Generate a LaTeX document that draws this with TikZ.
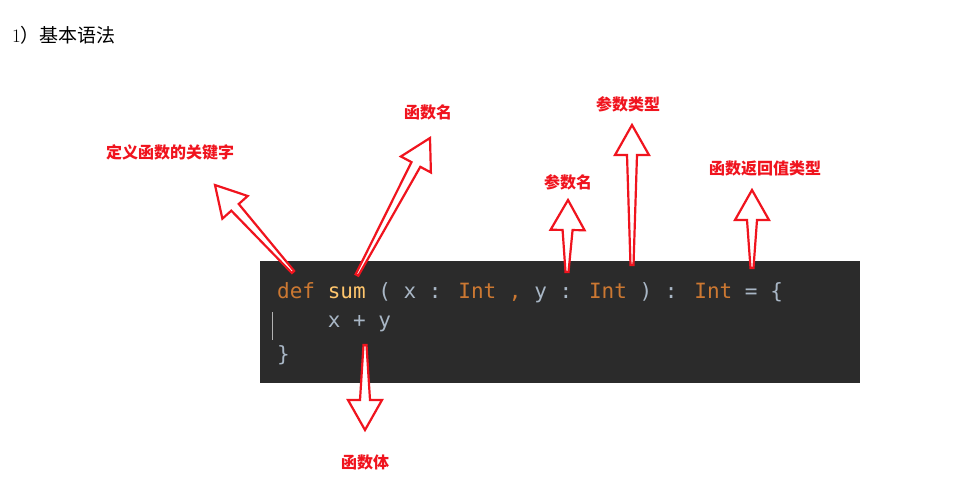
\documentclass[tikz,border=0pt]{standalone}
\usepackage{fontspec}
\usetikzlibrary{calc}
\newfontfamily\cjk{Noto Sans CJK SC}
\newfontfamily\mono{DejaVu Sans Mono}
\definecolor{kw}{HTML}{CC7832}
\definecolor{fn}{HTML}{FFC66D}
\definecolor{tx}{HTML}{A9B7C6}
\definecolor{bg}{HTML}{2B2B2B}
\definecolor{ar}{HTML}{F0141E}
\newcommand\harrow[2]{%
  \path coordinate (hb) at ($(#2)!30pt!(#1)$);
  \draw[ar,line width=2.2pt,fill=white,line join=miter]
    ($(#1)!1.5pt!90:(#2)$) -- ($(hb)!5pt!-90:(#1)$) -- ($(hb)!17pt!-90:(#1)$) -- (#2)
    -- ($(hb)!17pt!90:(#1)$) -- ($(hb)!5pt!90:(#1)$) -- ($(#1)!1.5pt!-90:(#2)$) -- cycle;}
\tikzset{lab/.style={text=ar,font=\cjk\bfseries\fontsize{16}{18}\selectfont,inner sep=0pt},
 code/.style={anchor=west,font=\mono\fontsize{21}{24}\selectfont,text=tx,inner sep=0pt}}
\begin{document}
\begin{tikzpicture}[x=1pt,y=-1pt]
\useasboundingbox[fill=white] (0,0) rectangle (955,500);
\node[anchor=west,inner sep=0pt,font=\fontsize{19}{22}\selectfont] (title) at (12,35) {1\cjk）基本语法};
\fill[bg] (260,261) rectangle (860,383);
\draw[gray!60,line width=0.6pt] (272,312) -- (272,340);
\node[code] (l1) at (277,293) {\textcolor{kw}{def} \textcolor{fn}{sum} ( x : \textcolor{kw}{Int} \textcolor{kw}{,} y : \textcolor{kw}{Int} ) : \textcolor{kw}{Int} = \{};
\node[code] (l2) at (277,324) {\ \ \ \ x + y};
\node[code] (l3) at (277,355) {\}};
\coordinate (t1) at (293,272); \coordinate (p1) at (215,185);
\coordinate (t2) at (357,275); \coordinate (p2) at (430,138);
\coordinate (t3) at (567,272); \coordinate (p3) at (568,200);
\coordinate (t4) at (632,265); \coordinate (p4) at (632,125);
\coordinate (t5) at (752,268); \coordinate (p5) at (752,190);
\coordinate (t6) at (365,345); \coordinate (p6) at (365,430);
\harrow{t1}{p1}\harrow{t2}{p2}\harrow{t3}{p3}\harrow{t4}{p4}\harrow{t5}{p5}\harrow{t6}{p6}
\node[lab] (a1) at (170,152) {定义函数的关键字};
\node[lab] (a2) at (428,112) {函数名};
\node[lab] (a3) at (568,182) {参数名};
\node[lab] (a4) at (628,104) {参数类型};
\node[lab] (a5) at (765,168) {函数返回值类型};
\node[lab] (a6) at (365,462) {函数体};
\end{tikzpicture}
\end{document}
